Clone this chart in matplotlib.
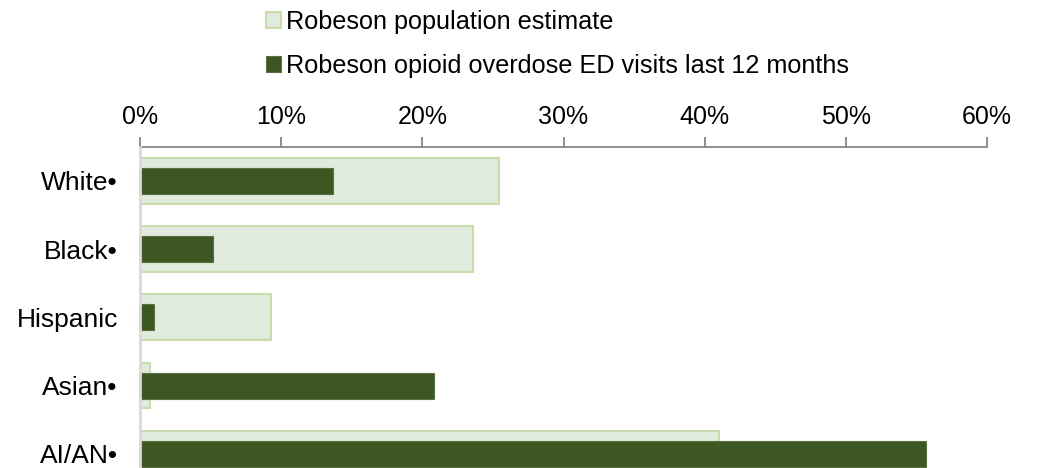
import matplotlib
matplotlib.use("Agg")
import matplotlib.pyplot as plt
from matplotlib.patches import Patch
from matplotlib.ticker import FuncFormatter

plt.rcParams['font.family'] = ['Liberation Sans', 'DejaVu Sans']

categories = ["White•", "Black•", "Hispanic", "Asian•", "AI/AN•"]
population = [25.4, 23.6, 9.3, 0.7, 41.0]
ed_visits = [13.7, 5.2, 1.0, 20.8, 55.7]
series_names = ["Robeson population estimate",
                "Robeson opioid overdose ED visits last 12 months"]
xticks = [0, 10, 20, 30, 40, 50, 60]

light_fill = "#E0EADD"
light_edge = "#C9DCA9"
dark_fill = "#3D5723"
dark_edge = "#5A7040"

W, H = 1037, 468
fig = plt.figure(figsize=(W / 100, H / 100), dpi=100)
ax_left, ax_right = 140 / W, 987 / W
ax_top = 1 - 146.7 / H
ax_bottom = 1 - 488.0 / H
ax = fig.add_axes([ax_left, ax_bottom, ax_right - ax_left, ax_top - ax_bottom])

y = list(range(len(categories)))
ax.barh(y, population, height=0.67, color=light_fill, edgecolor=light_edge,
        linewidth=1.5, zorder=2)
ax.barh(y, ed_visits, height=0.38, color=dark_fill, edgecolor=dark_edge,
        linewidth=0.8, zorder=3)

ax.set_xlim(0, 60)
ax.set_ylim(len(categories) - 0.5, -0.5)
ax.set_yticks(y)
ax.set_yticklabels(categories, fontsize=19)
ax.xaxis.tick_top()
ax.set_xticks(xticks)
ax.xaxis.set_major_formatter(FuncFormatter(lambda v, p: f"{v:.0f}%"))
ax.tick_params(axis='x', direction='out', length=7, width=1.3,
               color="#868686", labelsize=18, pad=5.5)
ax.tick_params(axis='y', length=0, pad=16)

for s in ['right', 'bottom']:
    ax.spines[s].set_visible(False)
ax.spines['top'].set_color("#868686")
ax.spines['top'].set_linewidth(1.3)
ax.spines['left'].set_color("#D9D9D9")
ax.spines['left'].set_linewidth(2)
ax.spines['left'].set_zorder(4)

handles = [Patch(facecolor=light_fill, edgecolor=light_edge, linewidth=1.5),
           Patch(facecolor=dark_fill, edgecolor=dark_edge, linewidth=0.8)]
fig.legend(handles, series_names, loc='upper left',
           bbox_to_anchor=(266 / W, 1 - 10 / H), frameon=False, fontsize=18.2,
           handlelength=0.6, handleheight=0.6, handletextpad=0.2,
           labelspacing=0.8, borderpad=0, borderaxespad=0)

fig.savefig("out.png", dpi=100)
